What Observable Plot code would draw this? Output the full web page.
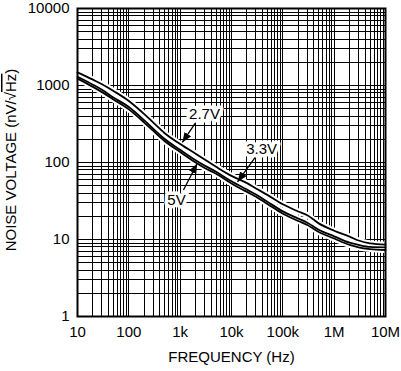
<!DOCTYPE html>
<html><head><meta charset="utf-8">
<script src="https://cdn.jsdelivr.net/npm/d3@7"></script>
<script src="https://cdn.jsdelivr.net/npm/@observablehq/plot@0.6"></script>
<style>
body{margin:0;background:#fff}
#chart{position:absolute;left:0;top:0}
</style>
</head><body><div id="chart"></div>
<script>
const freqs = [10,20,30,50,100,200,300,500,1e3,2e3,3e3,5e3,1e4,2e4,3e4,5e4,1e5,2e5,3e5,5e5,1e6,2e6,3e6,5e6,1e7];
const v27 = [1480,1190,1040,850,630,425,330,240,174,130,109,88,67,54,46,38,28.7,23.1,20.7,16.2,13,10.9,9.7,8.9,8.6];
const v33 = [1300,1025,880,700,525,352,274,202,146,107,91,76,57,44.5,38.3,31,23.2,18.7,16.5,13.4,11,9.1,8.5,8,7.9];
const v5  = [1230,960,820,660,490,330,257,189,137,100,85,71.5,53.5,41.5,36,29,21.6,17.4,15.4,12.5,10.3,8.5,7.9,7.5,7.3];

const xTicks = [10,100,1e3,1e4,1e5,1e6,1e7];
const xTickLabels = ["10","100","1k","10k","100k","1M","10M"];
const yTicks = [1,10,100,1000,10000];
const yTickLabels = ["1","10","100","1000","10000"];
const minorMultipliers = [1,2,3,4,5,6,7,8,9];
const xDecades = [10,100,1e3,1e4,1e5,1e6];
const yDecades = [1,10,100,1000];

const annotations = [
  {label:"2.7V", tx:2980, ty:424, x1:1990, y1:327, x2:1100, y2:182},
  {label:"3.3V", tx:38500, ty:150, x1:29400, y1:118, x2:13100, y2:56},
  {label:"5V", tx:849, ty:32.2, x1:1160, y1:44, x2:2150, y2:97}
];

const gridX = xDecades.flatMap(d => minorMultipliers.map(m => m*d)).concat([1e7]);
const gridY = yDecades.flatMap(d => minorMultipliers.map(m => m*d)).concat([1e4]);

const series = [
  {name:"2.7V", values:v27},
  {name:"3.3V", values:v33},
  {name:"5V", values:v5}
];
const rows = series.flatMap(s => freqs.map((f,i) => ({series:s.name, f, v:s.values[i]})));

function filledArrow(color, context) {
  const ns = "http://www.w3.org/2000/svg";
  const doc = context && context.document ? context.document : document;
  const m = doc.createElementNS(ns, "marker");
  m.setAttribute("viewBox", "-10 -4 10 8");
  m.setAttribute("markerWidth", "10");
  m.setAttribute("markerHeight", "8");
  m.setAttribute("markerUnits", "userSpaceOnUse");
  m.setAttribute("orient", "auto");
  m.setAttribute("refX", "0");
  m.setAttribute("refY", "0");
  const p = doc.createElementNS(ns, "path");
  p.setAttribute("d", "M-10,-4L0,0L-10,4Z");
  p.setAttribute("fill", color);
  p.setAttribute("stroke", "none");
  m.appendChild(p);
  return m;
}

const font = "'Liberation Sans', Arial, Helvetica, sans-serif";

const plot = Plot.plot({
  width: 401,
  height: 371,
  marginLeft: 77,
  marginRight: 16,
  marginTop: 8,
  marginBottom: 55,
  x: {type: "log", domain: [10, 1e7]},
  y: {type: "log", domain: [1, 1e4]},
  style: {fontFamily: font, fontSize: "15px", color: "#000", background: "#fff"},
  marks: [
    Plot.ruleX(gridX, {stroke: "#000", strokeWidth: 1, shapeRendering: "crispEdges"}),
    Plot.ruleY(gridY, {stroke: "#000", strokeWidth: 1, shapeRendering: "crispEdges"}),
    Plot.line(rows, {x: "f", y: "v", z: "series", stroke: "#fff", strokeWidth: 6, curve: "monotone-x"}),
    Plot.line(rows, {x: "f", y: "v", z: "series", stroke: "#000", strokeWidth: 1.8, curve: "monotone-x"}),
    Plot.frame({stroke: "#000", strokeWidth: 2}),
    Plot.link(annotations, {x1: "x1", y1: "y1", x2: "x2", y2: "y2", stroke: "#000", strokeWidth: 1.3, markerEnd: filledArrow}),
    Plot.text(annotations, {x: "tx", y: "ty", text: "label", fill: "#000", stroke: "#fff", strokeWidth: 7, fontSize: 15}),
    Plot.axisX({ticks: xTicks, tickFormat: d => xTickLabels[xTicks.indexOf(d)], tickSize: 0, tickPadding: 10, label: null, fontSize: 15}),
    Plot.axisY({ticks: yTicks, tickFormat: d => yTickLabels[yTicks.indexOf(d)], tickSize: 0, tickPadding: 8, label: null, fontSize: 15}),
    Plot.text(["FREQUENCY (Hz)"], {frameAnchor: "bottom", dy: 45, fontSize: 15, fill: "#000"})
  ]
});

const svg = d3.select(plot);
const yl = svg.append("text")
  .attr("transform", "translate(16,160) rotate(-90)")
  .attr("text-anchor", "middle")
  .attr("font-family", font)
  .attr("font-size", 15)
  .attr("fill", "#000");
yl.append("tspan").text("NOISE VOLTAGE (nV/√");
yl.append("tspan").attr("style", "text-decoration: overline").text("Hz");
yl.append("tspan").text(")");

document.getElementById("chart").appendChild(plot);
</script>
</body></html>
